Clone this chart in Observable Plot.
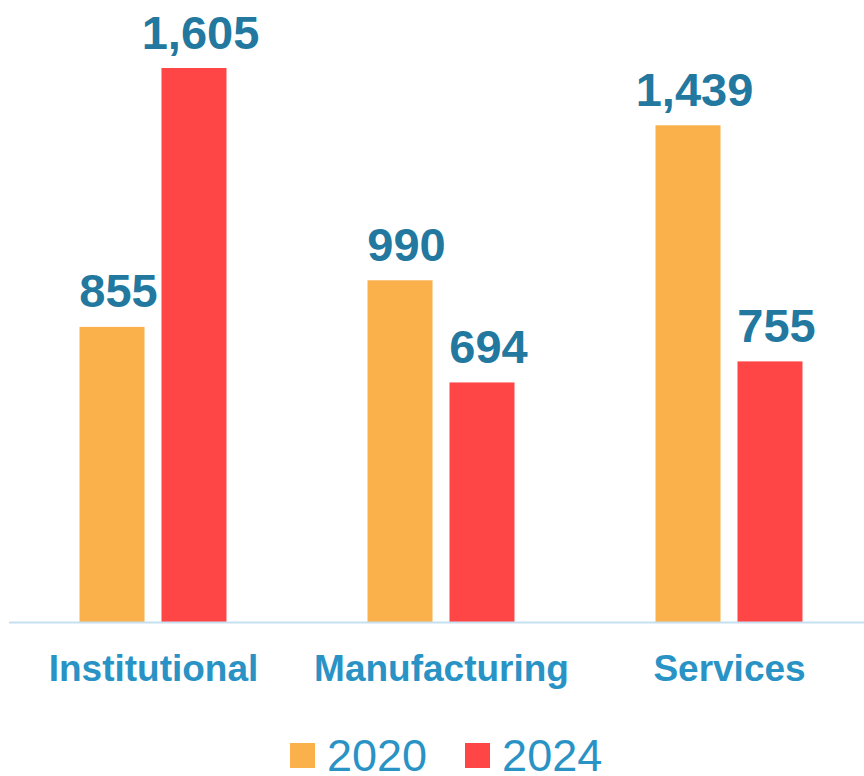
<!DOCTYPE html>
<html>
<head>
<meta charset="utf-8">
<script src="https://cdn.jsdelivr.net/npm/d3@7"></script>
<script src="https://cdn.jsdelivr.net/npm/@observablehq/plot@0.6"></script>
<style>
  html, body { margin: 0; padding: 0; background: #fff; overflow: hidden; width: 864px; height: 776px; }
  #chart { width: 882px; height: 700px; }
  #chart svg { display: block; overflow: visible; max-width: none !important; width: 882px !important; height: 700px !important; }
  #legend { height: 76px; box-sizing: border-box; padding-top: 35px; padding-left: 290px; display: flex; align-items: center;
    font-family: "Liberation Sans", Arial, sans-serif; font-size: 45px; line-height: 1; color: #2a93c5; }
  .sw { width: 25px; height: 25px; display: inline-block; margin-right: 12px; }
  .lab { margin-right: 38px; }
</style>
</head>
<body>
<div id="chart"></div>
<div id="legend"></div>
<script>
const categories = ["Institutional", "Manufacturing", "Services"];
const years = ["2020", "2024"];
const values2020 = [855, 990, 1439];
const values2024 = [1605, 694, 755];
const colors = ["#fbb14b", "#ff4646"];

const data = [];
categories.forEach((c, i) => {
  data.push({category: c, year: years[0], value: values2020[i]});
  data.push({category: c, year: years[1], value: values2024[i]});
});

const chart = Plot.plot({
  width: 882,
  height: 700,
  marginLeft: 9,
  marginRight: 9,
  marginTop: 68,
  marginBottom: 78,
  style: {fontFamily: "'Liberation Sans', Arial, sans-serif", fontSize: "37px", fontWeight: "bold", color: "#2a93c5", background: "white", maxWidth: "none"},
  fx: {domain: categories, padding: 0, axis: "bottom", tickSize: 0, tickPadding: 32, label: null},
  x: {domain: years, paddingInner: 0.207, paddingOuter: 0.86, round: false, axis: null},
  y: {domain: [0, 1605], axis: null},
  color: {domain: years, range: colors},
  marks: [
    Plot.barY(data, {fx: "category", x: "year", y: "value", fill: "year"}),
    Plot.text(data, {fx: "category", x: "year", y: "value", text: d => d3.format(",")(d.value),
      lineAnchor: "bottom", dy: -20, dx: 6, fill: "#22789f", fontSize: 47, fontWeight: "bold"}),
    Plot.ruleY([0], {stroke: "#c5e0f0", strokeWidth: 2})
  ]
});
document.getElementById("chart").appendChild(chart);

const legend = document.getElementById("legend");
years.forEach((y, i) => {
  const sw = document.createElement("span");
  sw.className = "sw";
  sw.style.background = colors[i];
  legend.appendChild(sw);
  const t = document.createElement("span");
  t.className = "lab";
  t.textContent = y;
  legend.appendChild(t);
});
</script>
</body>
</html>
